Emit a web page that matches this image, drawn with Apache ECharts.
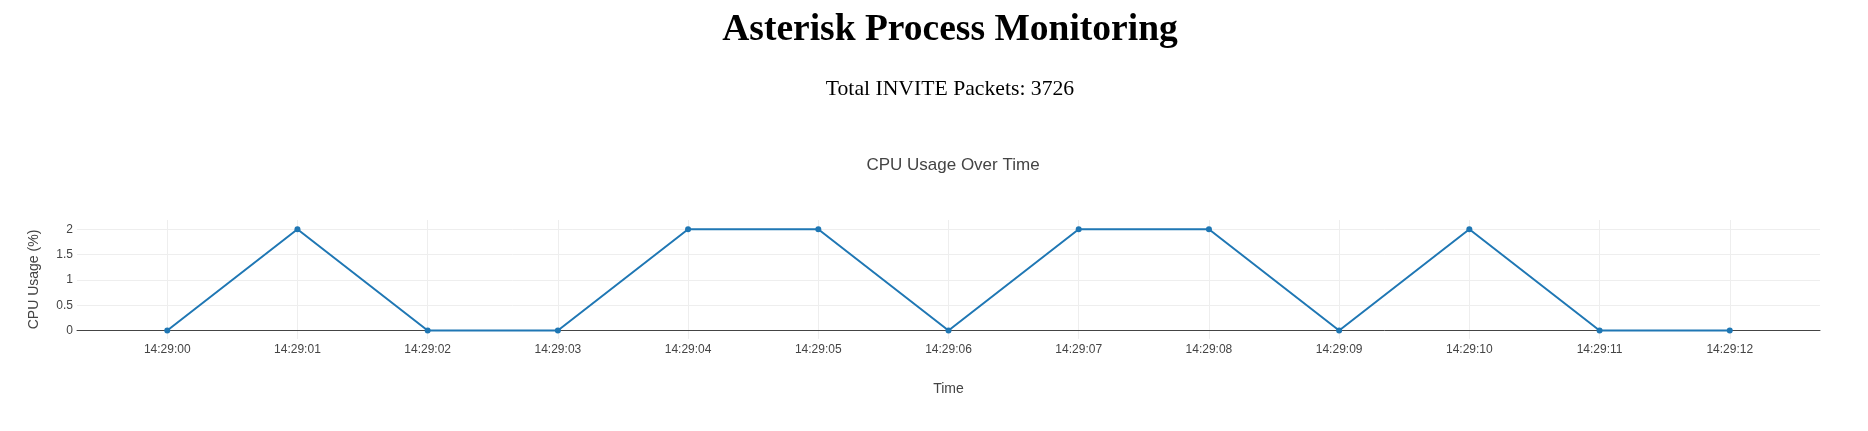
<!DOCTYPE html>
<html>
<head>
<meta charset="utf-8">
<script src="https://cdn.jsdelivr.net/npm/echarts@6/dist/echarts.min.js"></script>
<style>
html,body{margin:0;padding:0;background:#fff;}
#chart{width:1868px;height:431px;}
</style>
</head>
<body>
<div id="chart"></div>
<script>
const times = ["14:29:00","14:29:01","14:29:02","14:29:03","14:29:04","14:29:05","14:29:06","14:29:07","14:29:08","14:29:09","14:29:10","14:29:11","14:29:12"];
const cpuUsage = [0, 2, 0, 0, 2, 2, 0, 2, 2, 0, 2, 0, 0];
const yTicks = [0, 0.5, 1, 1.5, 2];
const pageTitle = "Asterisk Process Monitoring";
const pageSubtitle = "Total INVITE Packets: 3726";
const chartTitle = "CPU Usage Over Time";
const xTitle = "Time";
const yTitle = "CPU Usage (%)";

const xIdx = times.map((t, i) => i);
const chart = echarts.init(document.getElementById('chart'));
chart.setOption({
  animation: false,
  title: [
    {text: pageTitle, left: 945, top: 6, textAlign: 'center',
     textStyle: {fontFamily: 'Liberation Serif', fontWeight: 'bold', fontSize: 37.5, color: '#000'}},
    {text: pageSubtitle, left: 945, top: 73, textAlign: 'center',
     textStyle: {fontFamily: 'Liberation Serif', fontWeight: 'normal', fontSize: 21.7, color: '#000'}},
    {text: chartTitle, left: 948, top: 152, textAlign: 'center',
     textStyle: {fontFamily: 'Liberation Sans', fontWeight: 'normal', fontSize: 17, color: '#444'}}
  ],
  grid: {left: 77, right: 48, top: 220, bottom: 92, containLabel: false},
  xAxis: {
    type: 'value',
    min: -0.693, max: 12.693,
    name: xTitle, nameLocation: 'middle', nameGap: 43,
    nameTextStyle: {fontFamily: 'Liberation Sans', fontSize: 14, color: '#444'},
    axisLine: {show: true, onZero: true, lineStyle: {color: '#444', width: 1}},
    axisTick: {show: false, customValues: xIdx},
    axisLabel: {customValues: xIdx, margin: 5, fontFamily: 'Liberation Sans', fontSize: 12, color: '#444',
      formatter: v => times[Math.round(v)] || ''},
    splitLine: {show: true, lineStyle: {color: '#eee', width: 1}}
  },
  yAxis: {
    type: 'value',
    min: -0.168, max: 2.184,
    name: yTitle, nameLocation: 'middle', nameGap: 36,
    nameTextStyle: {fontFamily: 'Liberation Sans', fontSize: 14, color: '#444'},
    axisLine: {show: false},
    axisTick: {show: false, customValues: yTicks},
    axisLabel: {customValues: yTicks, margin: 4, fontFamily: 'Liberation Sans', fontSize: 12, color: '#444'},
    splitLine: {show: true, lineStyle: {color: '#eee', width: 1}}
  },
  series: [{
    type: 'line',
    data: cpuUsage.map((v, i) => [xIdx[i], v]),
    symbol: 'circle', symbolSize: 6,
    lineStyle: {color: '#1f77b4', width: 2},
    itemStyle: {color: '#1f77b4'}
  }]
});
</script>
</body>
</html>
